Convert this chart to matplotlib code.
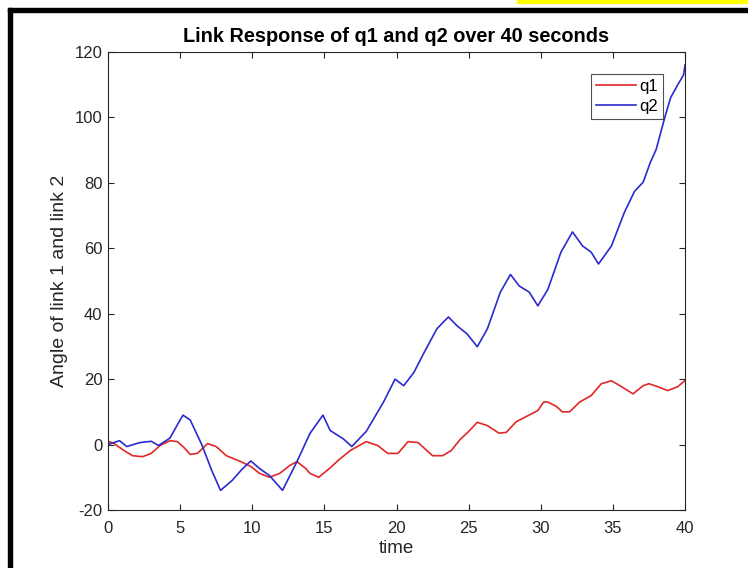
import numpy as np
import matplotlib
matplotlib.use("Agg")
import matplotlib.pyplot as plt
from matplotlib.patches import Rectangle

# q1 trace (time, angle)
t_q1 = [0, 0.4, 1.1, 1.7, 2.4, 3.0, 3.6, 4.3, 4.8, 5.2, 5.7, 6.2, 6.9, 7.5, 8.2, 9.2, 9.9,
        10.5, 11.2, 11.9, 12.6, 13.1, 13.7, 14.0, 14.6, 15.3, 16.1, 16.8, 17.9, 18.7, 19.4,
        20.1, 20.8, 21.5, 22.5, 23.2, 23.8, 24.4, 25.0, 25.6, 26.3, 27.1, 27.6, 28.3, 29.1,
        29.8, 30.2, 30.5, 31.1, 31.5, 32.0, 32.7, 33.5, 34.2, 34.9, 35.6, 36.4, 37.1, 37.5,
        38.1, 38.8, 39.5, 40.0]
q1 = [1.0, 0.4, -1.8, -3.4, -3.7, -2.7, -0.3, 1.2, 0.9, -0.6, -3.0, -2.7, 0.3, -0.6, -3.4,
      -5.2, -6.7, -8.8, -10.0, -8.8, -6.4, -5.2, -7.3, -8.8, -10.0, -7.5, -4.3, -1.8, 0.9,
      -0.3, -2.7, -2.7, 0.9, 0.6, -3.4, -3.4, -1.8, 1.5, 4.0, 6.8, 5.8, 3.5, 3.7, 7.0, 8.8,
      10.4, 13.0, 13.0, 11.6, 10.0, 10.0, 13.0, 15.0, 18.6, 19.5, 17.7, 15.5, 18.0, 18.6,
      17.7, 16.5, 17.7, 19.6]

# q2 trace (time, angle)
t_q2 = [0, 0.8, 1.3, 2.2, 3.0, 3.5, 4.3, 4.8, 5.2, 5.7, 6.5, 7.2, 7.8, 8.6, 9.3, 9.9,
        10.5, 11.2, 12.1, 13.1, 14.0, 14.9, 15.4, 16.3, 16.9, 17.9, 19.1, 19.9, 20.5,
        21.2, 21.9, 22.8, 23.6, 24.2, 24.9, 25.6, 26.3, 27.2, 27.9, 28.5, 29.2, 29.8,
        30.5, 31.4, 32.2, 32.9, 33.5, 34.0, 34.9, 35.8, 36.5, 37.1, 37.6, 38.0, 38.6,
        39.0, 39.5, 39.9, 40.0]
q2 = [0.0, 1.2, -0.6, 0.6, 1.0, -0.3, 2.0, 6.0, 9.0, 7.5, 0.0, -8.0, -14.0, -11.0, -7.5,
      -5.0, -7.3, -9.5, -14.0, -5.2, 3.4, 9.0, 4.3, 1.8, -0.6, 4.0, 13.0, 20.0, 18.0, 22.0,
      28.0, 35.4, 39.0, 36.3, 33.8, 29.9, 35.4, 46.6, 52.0, 48.5, 46.6, 42.4, 47.5, 58.8,
      65.0, 60.7, 58.8, 55.2, 60.7, 71.0, 77.4, 80.2, 86.3, 90.2, 100.0, 106.0, 110.0,
      113.0, 116.0]

plt.rcParams['font.family'] = ['Liberation Sans', 'DejaVu Sans']
plt.rcParams['axes.unicode_minus'] = False

fig = plt.figure(figsize=(7.48, 5.68), dpi=100)
ax = fig.add_axes([108 / 748, 1 - 510 / 568, (685 - 108) / 748, (510 - 52) / 568])

ax.plot(t_q1, q1, color='#e02828', lw=1.2, label='q1', solid_joinstyle='round')
ax.plot(t_q2, q2, color='#2a2ad0', lw=1.2, label='q2', solid_joinstyle='round')

ax.set_xlim(0, 40)
ax.set_ylim(-20, 120)
ax.set_xticks(np.arange(0, 41, 5))
ax.set_yticks(np.arange(-20, 121, 20))
ax.tick_params(direction='in', top=True, right=True, length=4, labelsize=12,
               colors='#262626', pad=4)
ax.tick_params(axis='x', pad=8)
for s in ax.spines.values():
    s.set_color('#262626')
    s.set_linewidth(0.8)

ax.set_title('Link Response of q1 and q2 over 40 seconds', fontsize=14.3,
             fontweight='bold', pad=7)
ax.set_xlabel('time', fontsize=13.5, color='#262626', labelpad=3)
ax.set_ylabel('Angle of link 1 and link 2', fontsize=14, color='#262626', labelpad=5)

leg = ax.legend(loc='upper right', fontsize=12, frameon=True, fancybox=False,
                handlelength=2.4, borderpad=0.3, labelspacing=0.3, handletextpad=0.2,
                borderaxespad=1.3)
leg.get_frame().set_edgecolor('#262626')
leg.get_frame().set_linewidth(0.8)

# screenshot frame and highlight
fig.patches.append(Rectangle((8 / 748, 0), 4 / 748, 1 - 8 / 568, transform=fig.transFigure,
                             color='black', zorder=10))
fig.patches.append(Rectangle((8 / 748, 1 - 12 / 568), 740 / 748, 4 / 568,
                             transform=fig.transFigure, color='black', zorder=10))
fig.patches.append(Rectangle((517 / 748, 1 - 3 / 568), 231 / 748, 3 / 568,
                             transform=fig.transFigure, color='#ffff00', zorder=10))

fig.savefig('out.png', dpi=100)
